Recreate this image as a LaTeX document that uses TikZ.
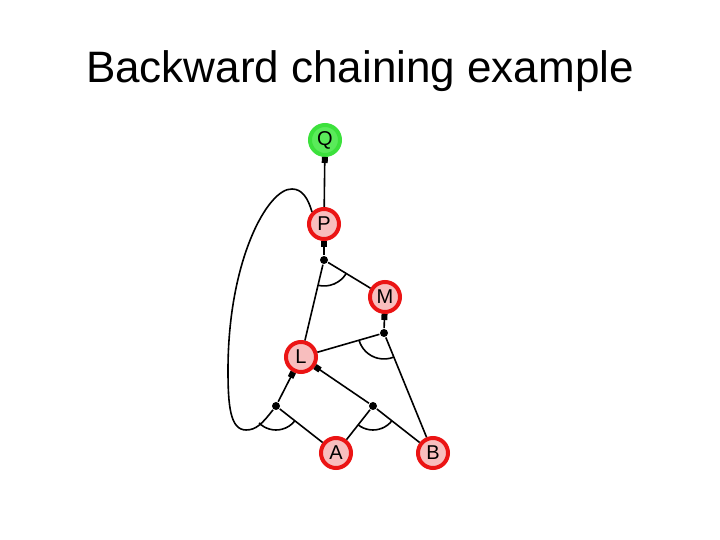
\documentclass[tikz,border=0pt]{standalone}
\usepackage{fontspec}
\setmainfont{Liberation Sans}
\usetikzlibrary{arrows.meta,angles}
\definecolor{symred}{RGB}{235,20,20}
\definecolor{symfill}{RGB}{248,190,190}
\definecolor{goalgreen}{RGB}{60,225,60}
\definecolor{goalfill}{RGB}{90,235,90}
\begin{document}
\begin{tikzpicture}[x=1pt, y=1pt, line width=1.6pt,
  sym/.style={circle, draw=symred, line width=4pt, fill=symfill, minimum size=30pt, inner sep=0pt, font=\fontsize{20}{20}\selectfont},
  goal/.style={sym, draw=goalgreen, fill=goalfill},
  conj/.style={circle, fill=black, inner sep=0pt, minimum size=8pt},
  imp/.style={-{Square[length=6pt,width=6pt]}}]
\useasboundingbox (0,0) rectangle (720,540);
\node (title) at (360,457) [anchor=base, font=\fontsize{44}{44}\selectfont] {Backward chaining example};

\node (Q) at (325, 400) [goal] {Q};
\node (P) at (324, 316) [sym] {P};
\node (M) at (385, 243) [sym] {M};
\node (L) at (301, 183) [sym] {L};
\node (A) at (336, 87) [sym] {A};
\node (B) at (433, 87) [sym] {B};

\node (J1) at (324, 280) [conj] {};
\node (J2) at (384, 207) [conj] {};
\node (J3) at (276, 134) [conj] {};
\node (J4) at (373, 134) [conj] {};

\draw[imp] (P) to (Q);
\draw[imp] (J1) to (P);
\draw (J1) to (L);
\draw (J1) to (M);
\draw[imp] (J2) to (M);
\draw (J2) to (L);
\draw (J2) to (B);
\draw[imp] (J3) to (L);
\draw (J3) to (A);
\draw (J3) .. controls (262,116) and (256,110) .. (246,110)
  .. controls (230,110) and (228,135) .. (228,170)
  .. controls (228,280) and (268,352) .. (292,351)
  .. controls (302,351) and (308,342) .. (P.135);
\draw[imp] (J4) to (L);
\draw (J4) to (A);
\draw (J4) to (B);

\coordinate (lp) at (258,116);
\pic [draw, angle radius=26pt] {angle = L--J1--M};
\pic [draw, angle radius=26pt] {angle = L--J2--B};
\pic [draw, angle radius=24pt] {angle = lp--J3--A};
\pic [draw, angle radius=24pt] {angle = A--J4--B};
\end{tikzpicture}
\end{document}
